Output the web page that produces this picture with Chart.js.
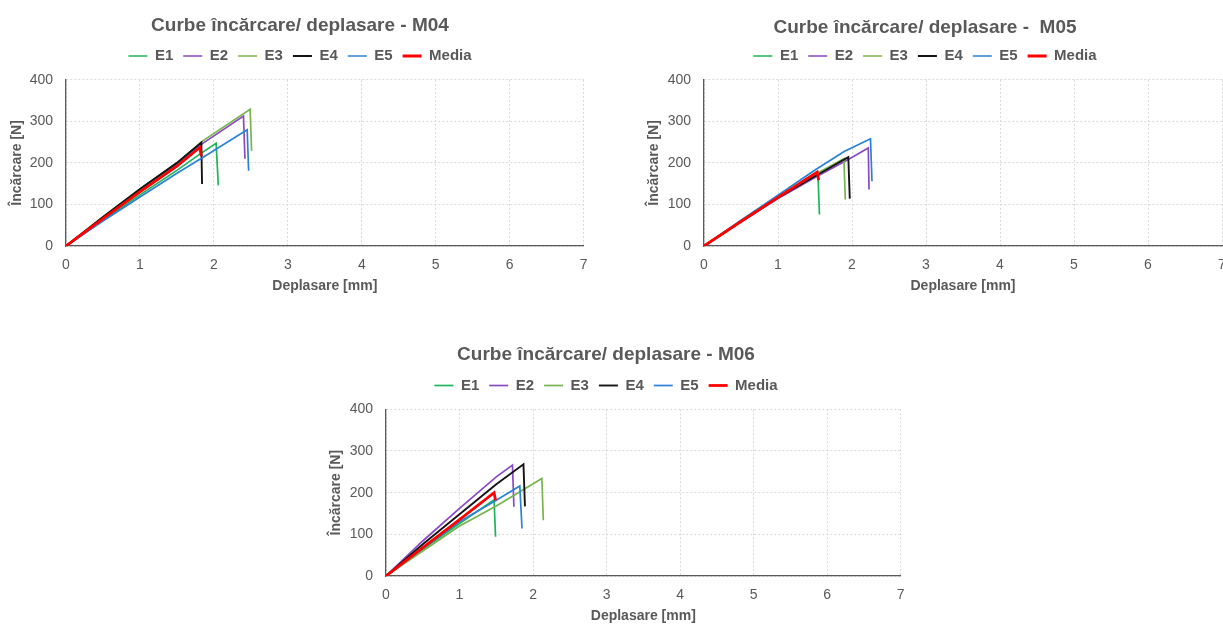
<!DOCTYPE html>
<html>
<head>
<meta charset="utf-8">
<script src="https://cdn.jsdelivr.net/npm/chart.js@4.4.0/dist/chart.umd.min.js"></script>
<style>
html, body { margin: 0; padding: 0; background: #fff; overflow: hidden; width: 1223px; height: 624px; }
.box { position: absolute; }
</style>
</head>
<body>
<div class="box" style="left:0px;top:0px"><canvas id="chartM04" width="598" height="300"></canvas></div>
<div class="box" style="left:620px;top:0px"><canvas id="chartM05" width="620" height="300"></canvas></div>
<div class="box" style="left:310px;top:330px"><canvas id="chartM06" width="605" height="300"></canvas></div>
<script>
// serii: E1..E5 + media, puncte [deplasare mm, incarcare N]
const seriesNames = ['E1', 'E2', 'E3', 'E4', 'E5', 'Media'];
const seriesColors = ['#1db45a', '#8a4ac1', '#77b44e', '#141414', '#2a82d4', '#ff0000'];
const seriesWidths = [1.7, 1.7, 1.7, 1.9, 1.7, 2.8];
const seriesOrder = [5, 4, 3, 2, 1, 0];

const xTicks = { min: 0, max: 7, step: 1 };
const yTicks = { min: 0, max: 400, step: 100 };

// M04
const m04E1 = [[0, 0], [0.5, 62], [1, 123], [1.5, 182], [1.8, 220], [2.03, 247], [2.06, 146]];
const m04E2 = [[0, 0], [0.5, 68], [1, 135], [1.5, 198], [1.85, 247], [2.40, 313], [2.42, 210]];
const m04E3 = [[0, 0], [0.5, 70], [1, 137], [1.5, 200], [1.85, 253], [2.49, 329], [2.51, 229]];
const m04E4 = [[0, 0], [0.5, 70], [1, 137], [1.5, 200], [1.83, 249], [1.84, 149]];
const m04E5 = [[0, 0], [0.5, 60], [1, 118], [1.5, 175], [1.85, 213], [2.45, 280], [2.47, 181]];
const m04Media = [[0, 0], [0.5, 66], [1, 130], [1.5, 192], [1.81, 237], [1.83, 216]];

// M05
const m05E1 = [[0, 0], [0.5, 60], [1, 117], [1.54, 172], [1.56, 76]];
const m05E2 = [[0, 0], [0.5, 58], [1, 114], [1.5, 165], [1.95, 208], [2.22, 236], [2.23, 136]];
const m05E3 = [[0, 0], [0.5, 60], [1, 118], [1.5, 172], [1.89, 210], [1.91, 112]];
const m05E4 = [[0, 0], [0.5, 59], [1, 116], [1.5, 168], [1.95, 214], [1.97, 114]];
const m05E5 = [[0, 0], [0.5, 62], [1, 122], [1.5, 183], [1.9, 228], [2.25, 258], [2.27, 156]];
const m05Media = [[0, 0], [0.5, 59], [1, 117], [1.53, 178], [1.55, 158]];

// M06
const m06E1 = [[0, 0], [0.5, 64], [1, 126], [1.47, 183], [1.49, 94]];
const m06E2 = [[0, 0], [0.5, 84], [1, 162], [1.5, 238], [1.72, 266], [1.74, 166]];
const m06E3 = [[0, 0], [0.5, 60], [1, 120], [1.5, 168], [2.12, 234], [2.14, 134]];
const m06E4 = [[0, 0], [0.5, 76], [1, 148], [1.5, 220], [1.87, 268], [1.89, 167]];
const m06E5 = [[0, 0], [0.5, 66], [1, 130], [1.5, 182], [1.82, 216], [1.85, 114]];
const m06Media = [[0, 0], [0.5, 68], [1, 135], [1.47, 200], [1.49, 182]];

const textColor = '#595959';
Chart.defaults.font.family = '"Liberation Sans", Arial, sans-serif';
Chart.defaults.color = textColor;

function makeChart(id, titleText, series, lay) {

    let datasets = series.map((pts, i) => ({
        label: seriesNames[i],
        data: pts.map(p => ({ x: p[0], y: p[1] })),
        borderColor: seriesColors[i],
        backgroundColor: seriesColors[i],
        borderWidth: seriesWidths[i],
        order: seriesOrder[i],
        showLine: true,
        pointRadius: 0,
        tension: 0,
        xAxisID: 'x',
        yAxisID: 'y'
    }));

    return new Chart(document.getElementById(id), {
        type: 'scatter',
        data: { datasets: datasets },
        options: {
            responsive: false,
            animation: false,
            layout: { padding: { left: lay.padL, right: lay.padR, top: 0, bottom: 0 } },
            plugins: {
                title: {
                    display: true,
                    text: titleText,
                    color: textColor,
                    font: { size: 19, weight: 'bold' },
                    padding: { top: lay.titleTop, bottom: lay.titleBottom }
                },
                legend: {
                    display: true,
                    position: 'top',
                    labels: {
                        usePointStyle: true,
                        pointStyle: 'line',
                        pointStyleWidth: 19,
                        padding: 10,
                        color: textColor,
                        font: { size: 15, weight: 'bold' },
                        sort: (a, b) => a.datasetIndex - b.datasetIndex
                    }
                },
                tooltip: { enabled: false }
            },
            scales: {
                x: {
                    type: 'linear',
                    position: 'bottom',
                    min: xTicks.min,
                    max: xTicks.max,
                    ticks: { stepSize: xTicks.step, color: textColor, font: { size: 14 }, padding: 10.5 },
                    grid: { color: '#d9d9d9', lineWidth: 1, drawTicks: false },
                    border: { color: '#5a5a5a', width: 1.3, dash: [2, 2] },
                    title: {
                        display: true,
                        text: 'Deplasare [mm]',
                        color: textColor,
                        font: { size: 14, weight: 'bold' },
                        padding: { top: 0, bottom: 5 }
                    },
                    afterFit: (s) => { s.height = 54; }
                },
                xTop: {
                    type: 'linear',
                    position: 'top',
                    axis: 'x',
                    min: xTicks.min,
                    max: xTicks.max,
                    ticks: { display: false },
                    grid: { display: false },
                    border: { display: false },
                    afterFit: (s) => { s.height = 6.3; }
                },
                y: {
                    type: 'linear',
                    min: yTicks.min,
                    max: yTicks.max,
                    ticks: { stepSize: yTicks.step, color: textColor, font: { size: 14 }, padding: 13 },
                    grid: { color: '#d9d9d9', lineWidth: 1, drawTicks: false },
                    border: { color: '#5a5a5a', width: 1.3, dash: [2, 2] },
                    title: {
                        display: true,
                        text: 'Încărcare [N]',
                        color: textColor,
                        font: { size: 14, weight: 'bold' },
                        padding: { top: lay.yTitlePad, bottom: 0 }
                    },
                    afterFit: (s) => { s.width = lay.yWidth; }
                }
            }
        }
    });
}

makeChart('chartM04', 'Curbe încărcare/ deplasare - M04',
    [m04E1, m04E2, m04E3, m04E4, m04E5, m04Media],
    { padL: 15, padR: 13, yWidth: 51, yTitlePad: -6.5, titleTop: 14.3, titleBottom: 1.4 });

makeChart('chartM05', 'Curbe încărcare/ deplasare -  M05',
    [m05E1, m05E2, m05E3, m05E4, m05E5, m05Media],
    { padL: 8, padR: 18, yWidth: 76, yTitlePad: 17.5, titleTop: 16.5, titleBottom: -0.8 });

makeChart('chartM06', 'Curbe încărcare/ deplasare - M06',
    [m06E1, m06E2, m06E3, m06E4, m06E5, m06Media],
    { padL: 0, padR: 13, yWidth: 76, yTitlePad: 18, titleTop: 13.8, titleBottom: 1.4 });
</script>
</body>
</html>
